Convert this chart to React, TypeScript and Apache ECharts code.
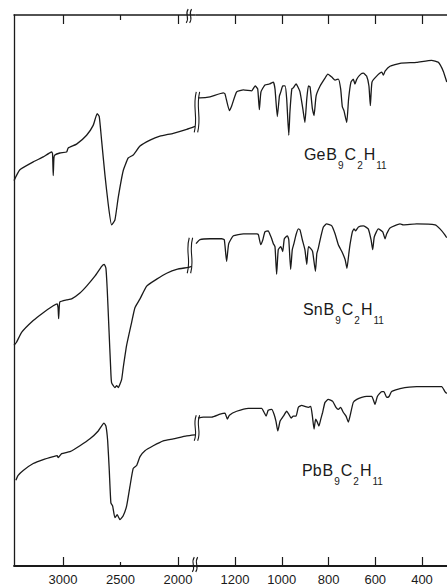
import React, { useEffect, useRef } from 'react';
import * as echarts from 'echarts';

// Wavenumber (cm-1) vs. pen deflection (arbitrary units, offset per compound)
const compounds = ['GeB9C2H11', 'SnB9C2H11', 'PbB9C2H11'];

const geHigh = [
  [3425, 391], [3374, 402], [3258, 410], [3171, 415], [3098, 420], [3090, 418], [3084, 396], [3078, 414],
  [3070, 417], [3026, 419], [2968, 420], [2954, 424], [2881, 428], [2794, 437], [2737, 447], [2702, 459],
  [2684, 456], [2663, 431], [2635, 397], [2606, 367], [2577, 346], [2548, 351], [2519, 374], [2476, 401],
  [2432, 414], [2389, 417], [2330, 426], [2243, 432], [2157, 436], [2041, 439], [1924, 443], [1852, 446],
];
const geLow = [
  [1358, 475], [1350, 475], [1307, 476], [1250, 480], [1243, 479], [1224, 462], [1214, 467], [1193, 481],
  [1164, 483], [1129, 482], [1114, 487], [1103, 484], [1096, 463], [1089, 481], [1072, 488], [1053, 489],
  [1036, 491], [1029, 484], [1019, 456], [1010, 477], [1004, 481], [996, 487], [986, 487], [979, 474],
  [970, 437], [965, 461], [957, 484], [951, 485], [939, 489], [933, 487], [922, 481], [910, 464],
  [901, 450], [893, 474], [886, 487], [879, 486], [869, 464], [862, 457], [853, 477], [836, 487],
  [815, 495], [803, 499], [786, 496], [772, 493], [758, 494], [748, 484], [741, 466], [734, 462],
  [722, 450], [714, 474], [704, 491], [694, 494], [687, 489], [679, 494], [662, 499], [651, 500],
  [637, 497], [627, 487], [621, 467], [614, 491], [594, 497], [572, 501], [565, 498], [558, 502],
  [537, 507], [494, 510], [423, 511], [359, 513], [330, 511], [309, 502], [294, 491],
];
const snHigh = [
  [3425, 224], [3403, 227], [3359, 237], [3258, 249], [3171, 257], [3084, 264], [3050, 266], [3042, 262],
  [3037, 251], [3032, 262], [3026, 268], [2968, 270], [2924, 271], [2852, 277], [2794, 284], [2722, 294],
  [2663, 304], [2641, 306], [2626, 302], [2615, 281], [2600, 241], [2585, 201], [2577, 186], [2548, 181],
  [2533, 183], [2519, 181], [2490, 189], [2476, 201], [2446, 224], [2403, 247], [2374, 262], [2330, 271],
  [2272, 284], [2185, 291], [2098, 297], [2011, 301], [1910, 303], [1881, 304],
];
const snLow = [
  [1367, 327], [1350, 331], [1307, 332], [1257, 332], [1246, 331], [1236, 309], [1227, 327], [1207, 335],
  [1164, 337], [1107, 337], [1100, 336], [1090, 326], [1081, 331], [1072, 339], [1058, 340], [1050, 336],
  [1043, 332], [1036, 327], [1029, 324], [1022, 296], [1015, 321], [1004, 324], [996, 319], [989, 332],
  [976, 335], [970, 331], [962, 301], [955, 321], [948, 327], [939, 336], [929, 342], [922, 341],
  [912, 331], [901, 321], [893, 306], [886, 324], [876, 322], [868, 319], [856, 299], [850, 317],
  [844, 322], [833, 334], [822, 344], [808, 347], [786, 345], [772, 337], [758, 326], [743, 319],
  [729, 311], [721, 302], [713, 317], [708, 326], [698, 339], [691, 342], [684, 340], [672, 344],
  [651, 345], [630, 342], [618, 331], [611, 321], [604, 334], [587, 342], [568, 339], [558, 332],
  [551, 337], [537, 343], [494, 347], [480, 346], [423, 347], [344, 346], [323, 342], [302, 336], [294, 333],
];
const pbHigh = [
  [3409, 87], [3389, 92], [3345, 97], [3258, 104], [3171, 108], [3084, 111], [3050, 112], [3041, 110],
  [3011, 114], [2939, 116], [2852, 122], [2765, 129], [2693, 137], [2643, 145], [2626, 142], [2611, 127],
  [2597, 97], [2583, 64], [2568, 61], [2548, 49], [2528, 52], [2504, 47], [2476, 51], [2446, 61],
  [2417, 81], [2389, 99], [2359, 102], [2330, 111], [2287, 117], [2215, 122], [2128, 127], [2041, 129],
  [1924, 132], [1852, 133],
];
const pbLow = [
  [1358, 150], [1336, 151], [1300, 151], [1264, 154], [1243, 155], [1233, 149], [1224, 153], [1193, 157],
  [1143, 160], [1086, 160], [1076, 156], [1067, 152], [1058, 158], [1043, 159], [1033, 154], [1025, 147],
  [1017, 137], [1007, 147], [993, 152], [979, 157], [970, 154], [960, 150], [951, 152], [939, 152],
  [929, 161], [915, 163], [901, 162], [886, 161], [876, 162], [869, 152], [862, 139], [855, 149],
  [848, 146], [841, 142], [833, 149], [825, 156], [815, 166], [801, 169], [782, 167], [768, 161],
  [758, 159], [748, 161], [737, 156], [725, 152], [715, 146], [708, 152], [694, 166], [679, 169],
  [658, 171], [637, 172], [615, 172], [601, 164], [591, 172], [572, 177], [563, 177], [551, 171],
  [541, 172], [530, 177], [494, 180], [423, 182], [380, 182], [316, 182], [302, 177], [294, 175],
];

// scale-change break marks: [wavenumber on high-range axis, low value, high value]
const breakMarks = [
  [1835, 440, 481],
  [1896, 297, 333],
  [1835, 127, 153],
  [1905, 551, 565],
  [1852, -6, 9],
];

const highMajorTicks = [3000, 2000];
const highMinorTicks = [2500];
const highLabels = [3000, 2500, 2000];
const lowTicks = [1200, 1000, 800, 600, 400];
const lowLabels = [1200, 1000, 800, 600, 400];

const INK = '#1a1a1a';
const FONT = 'Liberation Sans';

function xAx(grid: number, pos: string, min: number, max: number, ticks: number[], len: number,
  labels: number[] | null, showLine: boolean) {
  return {
    type: 'value', gridIndex: grid, position: pos, min, max, inverse: true,
    axisLine: { show: showLine, onZero: false, lineStyle: { color: INK, width: pos === 'bottom' ? 1.8 : 1.5 } },
    axisTick: { show: true, inside: true, length: len, customValues: ticks, lineStyle: { color: INK, width: 1.2 } },
    axisLabel: labels
      ? {
        show: true, customValues: labels, color: INK, fontFamily: FONT, fontSize: 13, margin: 7,
        formatter: (v: number) => String(v),
      }
      : { show: false },
    splitLine: { show: false },
  };
}

function measure(t: string, size: number) {
  const el = new (echarts.graphic as any).Text({ style: { text: t, fontSize: size, fontFamily: FONT } });
  return el.getBoundingRect().width;
}

// Formula label: element symbols at full size, digit groups as lowered subscripts
function label(text: string, x: number, capTop: number) {
  const parts = text.match(/[A-Z][a-z]?|\d+/g) || [];
  const BIG = 16;
  const SMALL = 10;
  const children: any[] = [];
  let cx = 0;
  parts.forEach((p) => {
    const sub = /\d/.test(p);
    const size = sub ? SMALL : BIG;
    children.push({
      type: 'text', x: cx, y: sub ? 14 : 0,
      style: { text: p, fontSize: size, fontFamily: FONT, fill: INK, verticalAlign: 'top', align: 'left' },
    });
    cx += measure(p, size) + 1;
  });
  return { type: 'group', x, y: capTop - 3, z: 10, children };
}

const lineStyle = { color: INK, width: 1.3 };
function seg(data: number[][], xi: number, yi: number) {
  return {
    type: 'line', data, xAxisIndex: xi, yAxisIndex: yi, symbol: 'none', smooth: 0.15,
    lineStyle, silent: true,
  };
}

export default function App() {
  const ref = useRef<HTMLDivElement>(null);
  useEffect(() => {
    if (!ref.current) return;
    const chart = echarts.init(ref.current, null, { renderer: 'svg' });
    const option = {
      animation: false,
      backgroundColor: '#ffffff',
      grid: [
        { left: 14, top: 15, width: 181, height: 559 },
        { left: 196, top: 15, width: 251, height: 559 },
      ],
      xAxis: [
        xAx(0, 'bottom', 1852, 3425, highMajorTicks, 9, highLabels, true),
        xAx(0, 'top', 1852, 3425, highMajorTicks, 9, null, true),
        xAx(0, 'bottom', 1852, 3425, highMinorTicks, 4, null, false),
        xAx(0, 'top', 1852, 3425, highMinorTicks, 5, null, false),
        xAx(1, 'bottom', 293, 1367, lowTicks, 9, lowLabels, true),
        xAx(1, 'top', 293, 1367, lowTicks, 9, null, true),
      ],
      yAxis: [
        {
          type: 'value', gridIndex: 0, min: 0, max: 559, position: 'left',
          axisLine: { show: true, lineStyle: { color: INK, width: 1.3 } },
          axisTick: { show: false }, axisLabel: { show: false }, splitLine: { show: false },
        },
        { type: 'value', gridIndex: 1, min: 0, max: 559, show: false, splitLine: { show: false } },
      ],
      series: [
        { ...seg(geHigh, 0, 0), name: compounds[0] },
        { ...seg(geLow, 4, 1), name: compounds[0] },
        { ...seg(snHigh, 0, 0), name: compounds[1] },
        { ...seg(snLow, 4, 1), name: compounds[1] },
        { ...seg(pbHigh, 0, 0), name: compounds[2] },
        { ...seg(pbLow, 4, 1), name: compounds[2] },
        {
          type: 'custom', xAxisIndex: 0, yAxisIndex: 0, clip: false, silent: true, z: 5,
          encode: { x: 0, y: [1, 2] },
          data: breakMarks,
          renderItem: (params: any, api: any) => {
            const x = api.value(0);
            const p1 = api.coord([x, api.value(1)]);
            const p2 = api.coord([x, api.value(2)]);
            const h = p1[1] - p2[1];
            const mk = (dx: number) => ({
              type: 'bezierCurve',
              shape: {
                x1: p1[0] + dx - 1, y1: p1[1], x2: p2[0] + dx + 1, y2: p2[1],
                cpx1: p1[0] + dx + 3, cpy1: p1[1] - h * 0.4,
                cpx2: p2[0] + dx - 3, cpy2: p2[1] + h * 0.4,
              },
              style: { stroke: INK, fill: null, lineWidth: 1.1 },
            });
            return { type: 'group', children: [mk(-1.7), mk(1.7)] };
          },
        },
      ],
      graphic: [
        label(compounds[0], 304, 149),
        label(compounds[1], 303, 304),
        label(compounds[2], 302, 465),
      ],
    };
    chart.setOption(option as any);
    return () => chart.dispose();
  }, []);
  return (
    <div
      ref={ref}
      style={{ position: 'fixed', left: 0, top: 0, width: 447, height: 586, background: '#fff' }}
    />
  );
}
